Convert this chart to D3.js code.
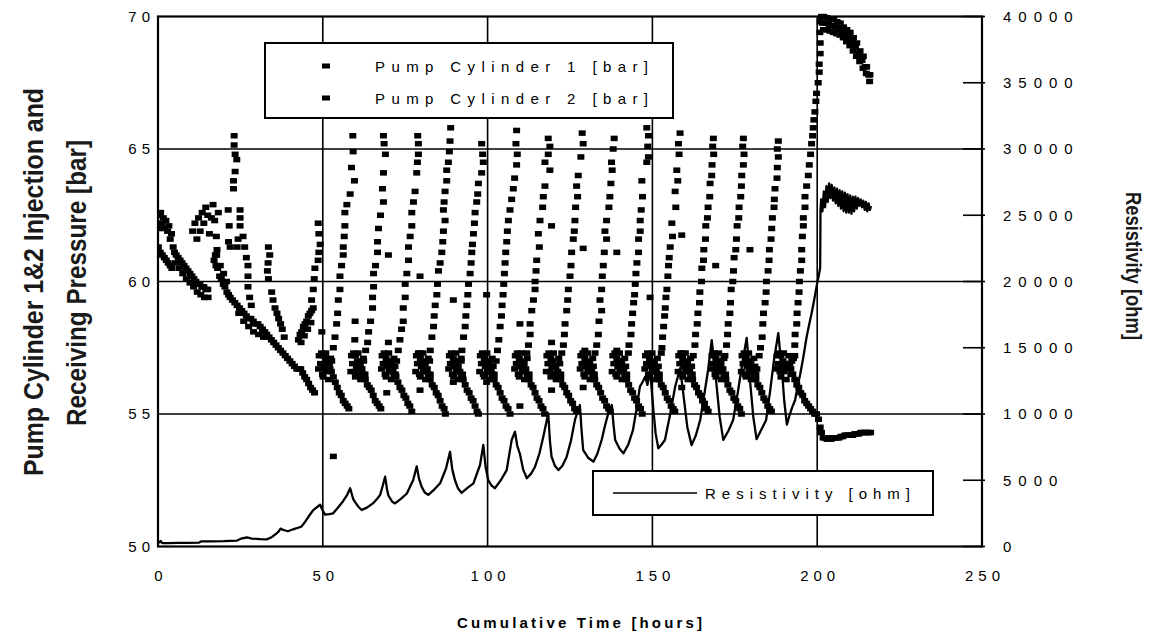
<!DOCTYPE html>
<html>
<head>
<meta charset="utf-8">
<script src="https://cdn.jsdelivr.net/npm/d3@7"></script>
<style>
  body { margin: 0; background: #fff; }
  svg text { font-family: "Liberation Sans", Arial, sans-serif; fill: #000; }
  .tick text { font-size: 15px; letter-spacing: 5px; }
  .axis-right .tick text { letter-spacing: 7px; }
  .narrow { font-weight: bold; fill: #1a1a1a !important; }
</style>
</head>
<body>
<svg width="1149" height="637"></svg>
<script>
// ---- data: [hours, bar] and [hours, ohm] ----
var timeTicks = [0, 50, 100, 150, 200, 250];
var pressureTicks = [50, 55, 60, 65, 70];
var resistTicks = [0, 5000, 10000, 15000, 20000, 25000, 30000, 35000, 40000];

// start-up period, before the regular cycles
var cyl1Early = [[0.2,62.0],[0.4,62.5],[0.8,62.6],[1.2,62.2],[1.6,62.4],[2.0,62.0],[2.4,62.3],[2.9,61.9],[3.3,62.1],[3.7,61.6],[4.1,61.8],[4.6,61.3],[5.0,61.1],[5.5,61.0],[6.1,60.9],[6.7,60.8],[7.3,60.7],[7.9,60.6],[8.5,60.5],[9.1,60.4],[9.7,60.3],[10.3,60.2],[10.9,60.1],[11.5,60.0],[12.1,59.9],[12.7,59.9],[13.3,59.8],[13.9,59.8],[14.5,59.7],[15.1,59.7],
  [10.5,61.9],[11.2,62.2],[11.8,61.6],[12.3,62.4],[12.8,61.9],[13.4,62.6],[13.9,62.2],[14.5,62.8],[15.1,62.5],[15.6,61.8],[16.2,62.4],[16.7,62.9],[17.2,62.3],[17.7,61.7],[17.9,61.2],[17.4,61.0],[18.3,62.6],
  [22.9,63.5],[22.9,63.8],[23.4,64.15],[23.9,64.6],[23.4,64.8],[23.1,65.15],[23.1,65.5],
  [25.8,61.7],[26.3,61.3],[26.8,60.9],[27.3,60.6],[27.3,60.2],[27.3,59.8],[27.8,59.4],[28.3,59.1],
  [22.6,59.3],[23.3,59.2],[24.0,59.1],[24.7,59.0],[25.4,58.9],[26.1,58.8],[26.8,58.7],[27.5,58.6],[28.2,58.6],[28.9,58.5],[29.6,58.4],[30.3,58.4],[31.0,58.3],[31.7,58.2],[32.4,58.1],
  [33.0,58.0],[33.7,57.9],[34.4,57.8],[35.1,57.7],[35.8,57.6],[36.5,57.5],[37.2,57.4],[37.9,57.3],[38.6,57.2],[39.3,57.1],[40.0,57.0],[40.7,56.9],[41.4,56.8],[42.1,56.7],[42.6,56.7],
  [42.6,57.8],[43.1,58.0],[43.6,58.1],[44.1,58.3],[44.6,58.4],[45.1,58.5],[45.6,58.7],[46.1,58.8],[46.6,58.9],[47.1,59.0],[43.4,57.7],[44.4,57.95],[45.4,58.2],[46.4,58.45]];

var cyl2Early = [[0.1,61.3],[0.7,61.1],[1.3,61.0],[1.9,60.9],[2.5,60.8],[3.1,60.7],[3.7,60.6],[4.2,60.5],
  [5.3,60.7],[6.4,60.5],[7.5,60.3],[8.6,60.1],[9.7,59.95],[10.8,59.8],[11.9,59.6],[13.0,59.5],[14.1,59.4],[15.2,59.4],
  [21.3,62.7],[21.6,62.1],[21.4,61.5],[21.9,61.3],[24.9,62.7],[24.9,62.4],[24.9,62.1],[24.3,61.6],[24.0,61.3],
  [17.0,60.8],[17.6,60.6],[18.1,60.5],[18.7,60.2],[19.2,60.1],[19.8,59.9],[20.3,59.8],[20.9,59.6],[21.4,59.5],[21.9,59.4],[17.8,61.0],[18.9,60.6],[19.9,60.3],[20.8,60.0],
  [24.5,58.8],[26.0,58.5],[27.5,58.3],[29.0,58.1],[30.5,58.0],[32.0,57.9],
  [33.5,61.3],[33.9,61.0],[33.4,60.7],[33.2,60.4],[33.5,60.1],[34.5,59.6],
  [34.9,59.3],[35.5,59.0],[36.1,58.8],[36.6,58.6],[37.2,58.4],[37.7,58.2],[38.3,57.9],
  [43.3,56.7],[43.9,56.55],[44.5,56.4],[45.1,56.3],[45.7,56.15],[46.3,56.0],[46.9,55.9],[47.5,55.8],
  [46.6,59.3],[47.1,59.7],[47.4,60.1],[47.6,60.5],[48.6,60.8],[48.8,61.1],[49.2,61.4],[48.8,61.8],[48.6,62.2]];

// receiving strokes: pressure climbing to ~65.5 bar
var cyl1Rise = [[52.7,57.0],[53.2,57.5],[53.7,57.9],[54.2,58.4],[54.5,58.8],[54.7,59.3],[55.2,59.7],[55.2,60.2],[55.7,60.6],[56.2,61.0],[56.2,61.3],[56.5,61.7],[56.7,62.1],[56.7,62.6],[57.3,62.9],[58.3,63.3],[59.6,63.8],[58.7,64.3],[59.2,64.9],[59.1,65.5],
  [72.4,57.0],[72.9,57.4],[73.4,57.8],[73.9,58.2],[74.4,58.5],[74.4,59.0],[75.0,59.4],[75.0,59.9],[75.5,60.3],[76.0,60.8],[76.0,61.3],[76.5,61.7],[77.0,62.1],[77.0,62.6],[77.5,63.0],[78.0,63.4],[78.5,64.1],[78.7,64.5],[79.0,64.8],[79.0,65.2],[78.8,65.5],
  [92.0,57.0],[92.2,57.4],[92.7,57.9],[93.2,58.3],[93.4,58.7],[93.7,59.1],[94.0,59.5],[94.2,59.9],[94.7,60.3],[95.0,60.7],[95.2,61.1],[95.4,61.4],[95.7,61.8],[96.0,62.2],[96.2,62.6],[96.7,63.0],[97.0,63.3],[97.2,63.7],[98.2,64.1],[98.7,64.5],[98.5,64.8],[98.2,65.2],
  [111.9,57.3],[112.4,57.6],[112.9,58.0],[112.9,58.4],[113.4,58.9],[113.9,59.3],[114.4,59.7],[114.4,60.0],[114.7,60.4],[114.9,60.8],[115.7,61.3],[115.4,61.8],[115.9,62.3],[116.7,62.8],[116.9,63.2],[117.4,63.6],[118.9,64.2],[117.4,64.5],[118.4,64.8],[118.9,65.1],[118.4,65.4],
  [132.6,57.3],[133.1,57.6],[133.6,58.0],[133.8,58.5],[134.6,58.9],[134.1,59.3],[134.6,59.7],[134.8,60.2],[135.1,60.6],[135.4,61.1],[136.1,61.6],[135.6,61.9],[136.1,62.3],[136.8,62.8],[137.1,63.2],[137.4,63.7],[137.8,64.2],[137.6,64.5],[138.1,65.0],[138.4,65.4],
  [152.7,57.3],[152.9,57.5],[153.1,57.9],[153.4,58.3],[153.7,58.7],[153.9,59.0],[154.1,59.4],[154.4,59.7],[154.7,60.2],[154.9,60.6],[155.1,60.9],[155.4,61.3],[156.1,61.7],[155.9,62.2],[157.1,62.8],[156.9,63.4],[157.7,63.8],[157.4,64.2],[158.1,64.8],[157.9,65.2],[158.4,65.6],
  [172.0,57.2],[172.5,57.6],[172.8,58.0],[173.0,58.4],[173.5,58.8],[173.7,59.2],[173.9,59.7],[174.4,60.0],[174.6,60.4],[174.8,60.9],[175.3,61.2],[175.5,61.6],[175.7,62.1],[176.2,62.4],[176.3,62.8],[176.8,63.2],[177.0,63.6],[177.1,64.0],[177.6,64.4],[177.8,64.8],[177.4,65.1],[177.6,65.4],
  [193.2,57.2],[193.2,57.6],[193.3,58.0],[193.8,58.4],[193.9,58.8],[194.2,59.2],[194.5,59.6],[194.6,60.0],[194.9,60.4],[195.3,60.8],[195.3,61.2],[195.5,61.7],[195.8,62.1],[195.8,62.4],[196.3,62.8],[196.3,63.2],[196.8,63.6],[197.3,64.0],[197.6,64.4],[198.0,64.8],[198.3,65.2],[198.6,65.5],[198.8,65.8],[199.0,66.1],[199.3,66.4],[199.6,66.8],[199.8,67.1],[200.3,67.5],[200.6,67.9],[200.6,68.2],[200.9,68.6],[200.9,69.0],[200.8,69.4],[200.9,69.8]];

var cyl2Rise = [[62.4,57.0],[63.0,57.4],[63.6,57.7],[63.9,58.1],[64.5,58.5],[65.1,59.0],[65.1,59.4],[65.4,59.8],[65.4,60.3],[66.0,60.6],[66.6,61.1],[66.6,61.5],[66.9,62.0],[67.5,62.5],[68.4,63.0],[68.1,63.5],[68.4,64.1],[69.0,64.8],[68.6,65.2],[68.4,65.5],
  [82.4,57.0],[82.6,57.4],[83.1,57.9],[83.6,58.3],[83.8,58.7],[84.1,59.1],[84.6,59.5],[84.8,59.9],[85.1,60.4],[85.6,60.7],[86.1,61.1],[86.4,61.5],[86.6,61.9],[87.1,62.3],[86.6,62.7],[86.8,63.0],[87.1,63.4],[87.6,63.8],[87.6,64.2],[88.1,64.5],[88.4,64.9],[88.6,65.3],[88.8,65.8],
  [102.6,57.0],[103.0,57.4],[103.4,57.8],[103.8,58.3],[104.2,58.7],[104.4,59.1],[104.7,59.5],[104.9,59.9],[105.1,60.3],[105.3,60.7],[105.5,61.1],[105.8,61.5],[106.0,61.9],[106.3,62.3],[106.8,62.7],[107.3,63.1],[107.8,63.5],[108.2,63.9],[108.8,64.4],[109.0,64.8],[108.6,65.2],[108.8,65.7],
  [122.5,57.3],[123.0,57.6],[123.3,58.0],[123.5,58.4],[124.0,58.9],[124.3,59.3],[124.5,59.7],[125.0,60.2],[125.3,60.6],[125.5,61.1],[126.0,61.6],[126.3,61.9],[126.5,62.3],[126.7,62.8],[127.3,63.2],[127.0,63.6],[127.5,64.0],[128.3,64.7],[129.0,65.2],[128.7,65.6],
  [142.7,57.3],[142.9,57.6],[143.5,58.0],[143.7,58.4],[144.0,58.8],[144.3,59.2],[144.6,59.5],[144.8,59.9],[145.0,60.3],[145.3,60.7],[145.8,61.1],[145.8,61.6],[146.3,61.9],[146.3,62.3],[146.6,62.7],[147.0,63.2],[146.8,63.8],[148.3,64.5],[148.8,64.7],[148.6,65.1],[148.8,65.5],[148.3,65.8],
  [162.4,57.2],[162.9,57.6],[163.1,58.0],[163.6,58.4],[163.8,58.8],[164.3,59.2],[164.4,59.6],[164.9,60.0],[165.0,60.5],[165.5,60.8],[165.6,61.2],[166.1,61.6],[166.2,62.1],[166.7,62.4],[166.9,62.8],[167.4,63.2],[167.5,63.7],[168.0,64.0],[168.1,64.4],[168.6,64.8],[168.3,65.1],[168.5,65.4],
  [182.4,57.2],[182.8,57.5],[183.3,57.9],[183.5,58.4],[183.7,58.8],[184.2,59.2],[184.5,59.6],[184.6,60.0],[185.1,60.4],[185.4,60.8],[185.5,61.2],[186.0,61.6],[186.2,62.0],[186.4,62.4],[186.9,62.8],[187.0,63.1],[187.2,63.5],[187.8,63.9],[187.9,64.3],[188.2,64.7],[187.9,65.0],[188.2,65.3]];

// injecting strokes: pressure sliding from ~57 to ~55 bar
var cyl1Fall = [[59.3,57.3],[59.9,57.2],[60.5,57.0],[61.1,56.9],[61.7,56.7],[62.3,56.5],[62.9,56.3],[63.5,56.1],[64.1,56.0],[64.7,55.9],[65.3,55.7],[65.9,55.5],[66.5,55.4],[67.1,55.3],[67.6,55.2],
  [79.0,57.3],[79.6,57.1],[80.2,57.0],[80.8,56.8],[81.4,56.6],[82.0,56.5],[82.6,56.3],[83.2,56.1],[83.8,56.0],[84.4,55.8],[85.0,55.7],[85.6,55.5],[86.2,55.3],[86.8,55.2],[87.2,55.0],
  [98.4,57.3],[99.0,57.1],[99.6,57.0],[100.2,56.8],[100.8,56.6],[101.4,56.5],[102.0,56.3],[102.6,56.1],[103.2,56.0],[103.8,55.8],[104.4,55.6],[105.0,55.5],[105.6,55.3],[106.2,55.2],[106.8,55.0],
  [118.6,57.3],[119.2,57.1],[119.8,57.0],[120.4,56.8],[121.0,56.6],[121.6,56.5],[122.2,56.3],[122.8,56.1],[123.4,56.0],[124.0,55.8],[124.6,55.7],[125.2,55.5],[125.8,55.4],[126.4,55.2],[127.0,55.1],
  [138.6,57.3],[139.2,57.1],[139.8,57.0],[140.4,56.8],[141.0,56.6],[141.6,56.4],[142.2,56.3],[142.8,56.1],[143.4,55.9],[144.0,55.8],[144.6,55.6],[145.2,55.5],[145.8,55.3],[146.4,55.2],[146.9,55.0],
  [158.6,57.3],[159.2,57.1],[159.8,57.0],[160.4,56.8],[161.0,56.6],[161.6,56.5],[162.2,56.3],[162.8,56.1],[163.4,56.0],[164.0,55.8],[164.6,55.7],[165.2,55.5],[165.8,55.4],[166.4,55.2],[166.9,55.1],
  [177.8,57.3],[178.4,57.1],[179.0,57.0],[179.6,56.8],[180.2,56.6],[180.8,56.5],[181.4,56.3],[182.0,56.1],[182.6,56.0],[183.2,55.8],[183.8,55.6],[184.4,55.5],[185.0,55.3],[185.6,55.2],[186.1,55.1]];

var cyl2Fall = [[49.6,57.3],[50.2,57.2],[50.8,57.1],[51.4,57.0],[52.0,56.9],[52.6,56.6],[53.2,56.4],[53.8,56.2],[54.4,56.0],[55.0,55.8],[55.6,55.7],[56.2,55.5],[56.8,55.4],[57.4,55.3],[57.9,55.2],
  [68.6,57.3],[69.2,57.1],[69.8,57.0],[70.4,56.8],[71.0,56.7],[71.6,56.5],[72.2,56.4],[72.8,56.2],[73.4,56.0],[74.0,55.9],[74.6,55.7],[75.2,55.6],[75.8,55.4],[76.4,55.3],[77.0,55.1],
  [89.0,57.3],[89.6,57.1],[90.2,57.0],[90.8,56.8],[91.4,56.6],[92.0,56.4],[92.6,56.3],[93.2,56.1],[93.8,55.9],[94.4,55.8],[95.0,55.6],[95.6,55.5],[96.2,55.3],[96.8,55.1],[97.2,55.0],
  [109.0,57.3],[109.6,57.1],[110.2,57.0],[110.8,56.8],[111.4,56.6],[112.0,56.5],[112.6,56.3],[113.2,56.1],[113.8,56.0],[114.4,55.8],[115.0,55.6],[115.6,55.5],[116.2,55.3],[116.8,55.2],[117.3,55.0],
  [128.9,57.3],[129.5,57.1],[130.1,57.0],[130.7,56.8],[131.3,56.6],[131.9,56.5],[132.5,56.3],[133.1,56.1],[133.7,56.0],[134.3,55.8],[134.9,55.6],[135.5,55.5],[136.1,55.3],[136.7,55.2],[137.2,55.1],
  [148.5,57.3],[149.1,57.1],[149.7,57.0],[150.3,56.8],[150.9,56.6],[151.5,56.5],[152.1,56.3],[152.7,56.1],[153.3,56.0],[153.9,55.8],[154.5,55.6],[155.1,55.5],[155.7,55.3],[156.3,55.2],[156.8,55.1],
  [168.7,57.3],[169.3,57.1],[169.9,57.0],[170.5,56.8],[171.1,56.6],[171.7,56.4],[172.3,56.3],[172.9,56.1],[173.5,55.9],[174.1,55.8],[174.7,55.6],[175.3,55.5],[175.9,55.3],[176.5,55.2],[177.0,55.0],
  [188.4,57.3],[189.0,57.2],[189.6,57.0],[190.2,56.9],[190.8,56.8],[191.4,56.9],[192.0,56.7],[192.6,56.5],[193.2,56.3],[193.8,56.1],[194.4,56.0],[195.0,55.8],[195.6,55.7],[196.2,55.5],[196.8,55.4],[197.4,55.3],[198.0,55.2],[198.6,55.1],[199.2,55.0],[199.8,55.0],[200.4,54.8],[200.9,54.5],[201.3,54.3],
  [201.8,54.1],[202.4,54.1],[203.0,54.05],[203.6,54.1],[204.2,54.05],[204.8,54.1],[205.4,54.1],[206.0,54.1],[206.6,54.1],[207.2,54.15],[207.8,54.15],[208.4,54.2],[209.0,54.2],[209.6,54.2],[210.2,54.2],[210.8,54.2],[211.4,54.25],[212.0,54.25],[212.6,54.25],[213.2,54.3],[213.8,54.3],[214.4,54.3],[215.0,54.3],[215.6,54.3],[216.2,54.3]];

// waiting at ~57 bar right after a switch-over
var cyl1Wait = [[48.7,56.7],[49.3,56.9],[49.9,56.5],[50.5,56.8],[51.1,56.6],[51.7,56.9],[52.2,56.7],
  [48.9,57.2],[50.1,56.4],[50.9,57.3],[51.7,56.3],[52.4,57.1],
  [67.8,56.7],[68.3,56.9],[68.9,56.5],[69.5,56.8],[70.1,56.6],[70.7,56.9],[71.3,56.6],[71.9,56.8],
  [68.0,57.2],[69.2,56.4],[70.0,57.3],[70.8,56.3],[71.6,57.1],[72.1,56.5],
  [88.2,56.7],[88.7,56.9],[89.3,56.5],[89.9,56.8],[90.5,56.6],[91.1,56.8],[91.6,56.6],
  [88.4,57.2],[89.7,56.4],[90.4,57.3],[91.2,56.3],[92.0,57.1],[92.4,56.5],
  [108.2,56.7],[108.7,56.9],[109.3,56.5],[109.9,56.8],[110.5,56.6],[111.1,56.9],[111.6,56.7],
  [108.4,57.2],[109.6,56.4],[110.3,57.3],[111.2,56.3],[112.0,57.1],[112.6,56.5],
  [128.1,56.7],[128.6,56.9],[129.2,56.5],[129.8,56.8],[130.4,56.6],[131.0,56.9],[131.6,56.6],[132.1,56.8],
  [128.3,57.2],[129.5,56.4],[130.3,57.3],[131.1,56.3],[131.9,57.1],[132.4,56.5],
  [147.7,56.7],[148.2,56.9],[148.8,56.5],[149.4,56.8],[150.0,56.6],[150.6,56.9],[151.2,56.6],[151.8,56.8],
  [147.9,57.2],[149.1,56.4],[149.9,57.3],[150.7,56.3],[151.5,57.1],[152.1,56.5],
  [167.9,56.7],[168.4,56.9],[169.0,56.5],[169.6,56.8],[170.2,56.6],[170.8,56.9],[171.4,56.7],
  [168.1,57.2],[169.3,56.4],[170.1,57.3],[170.9,56.3],[171.7,57.1],[172.2,56.5],
  [187.6,56.7],[188.1,56.9],[188.7,56.6],[189.3,56.8],[189.9,56.6],[190.5,56.9],[191.1,56.7],[191.7,56.9],[192.3,57.0],[192.8,57.1],
  [187.8,57.2],[189.0,56.4],[189.8,57.3],[190.6,56.3],[191.4,57.2],[192.0,56.5]];

var cyl2Wait = [[58.5,56.6],[59.0,56.9],[59.6,56.6],[60.2,56.8],[60.8,56.5],[61.4,56.8],[61.9,56.7],
  [58.7,57.2],[59.9,56.4],[60.7,57.3],[61.5,56.3],[62.3,57.1],[62.8,56.5],
  [78.2,56.6],[78.7,56.9],[79.3,56.5],[79.9,56.8],[80.5,56.6],[81.1,56.9],[81.7,56.7],
  [78.4,57.2],[79.6,56.4],[80.4,57.3],[81.2,56.3],[82.0,57.1],[82.6,56.5],
  [97.6,56.6],[98.1,56.9],[98.7,56.5],[99.3,56.8],[99.9,56.6],[100.5,56.9],[101.1,56.6],[101.7,56.8],
  [97.8,57.2],[99.0,56.4],[99.8,57.3],[100.6,56.3],[101.4,57.1],[102.0,56.5],
  [117.8,56.6],[118.3,56.9],[118.9,56.6],[119.5,56.8],[120.1,56.5],[120.7,56.8],[121.3,56.6],[121.9,56.9],
  [118.0,57.2],[119.2,56.4],[120.0,57.3],[120.8,56.3],[121.6,57.1],[122.2,56.5],
  [137.8,56.6],[138.3,56.9],[138.9,56.5],[139.5,56.8],[140.1,56.6],[140.7,56.9],[141.3,56.7],[141.9,56.8],
  [138.0,57.2],[139.2,56.4],[140.0,57.3],[140.8,56.3],[141.6,57.1],[142.2,56.5],
  [157.8,56.6],[158.3,56.9],[158.9,56.5],[159.5,56.8],[160.1,56.6],[160.7,56.9],[161.3,56.7],[161.9,56.8],
  [158.0,57.2],[159.2,56.4],[160.0,57.3],[160.8,56.3],[161.6,57.1],[162.1,56.5],
  [177.0,56.6],[177.5,56.9],[178.1,56.5],[178.7,56.8],[179.3,56.6],[179.9,56.9],[180.5,56.6],[181.1,56.8],[181.7,56.7],
  [177.2,57.2],[178.4,56.4],[179.2,57.3],[180.0,56.3],[180.8,57.1],[181.4,56.5]];

// cylinder 1 held at high pressure after 200 h
var cyl1High = [[201.3,70.0],[202.0,70.0],[203.0,69.95],[204.0,69.9],[205.0,69.9],[206.0,69.8],[207.0,69.75],[208.0,69.6],[209.0,69.5],[210.0,69.4],[211.0,69.2],[212.0,69.0],[213.0,68.7],[214.0,68.5],[215.0,68.1],[216.0,67.8],
  [201.6,69.75],[202.6,69.75],[203.6,69.7],[204.6,69.65],[205.6,69.6],[206.6,69.55],[207.6,69.45],[208.6,69.3],[209.6,69.2],[210.6,69.05],[211.6,68.85],[212.6,68.6],[213.6,68.35],[214.6,68.1],[215.6,67.8],
  [201.9,69.5],[202.9,69.5],[203.9,69.45],[204.9,69.4],[205.9,69.35],[206.9,69.3],[207.9,69.2],[208.9,69.05],[209.9,68.9],[210.9,68.7],[211.9,68.5],[212.9,68.3],[213.9,68.05],[214.9,67.85],[215.9,67.55]];

// lone samples taken during switch-overs
var cyl1Odd = [[49.7,58.1],[59.8,58.5],[59.7,57.8],[79.5,60.2],[79.5,55.9],[79.5,57.3],[99.7,59.5],[99.7,56.2],[119.4,62.1],[119.4,57.7],[119.4,55.9],[139.2,61.1],[139.2,57.4],[158.9,61.75],[158.9,57.3],[158.9,56.0],[179.6,61.2]];
var cyl2Odd = [[53.2,53.4],[69.9,61.0],[69.4,55.8],[69.9,57.7],[89.6,59.3],[89.6,56.2],[109.8,58.4],[109.8,55.3],[129.0,61.25],[129.5,57.4],[129.0,56.0],[149.3,59.4],[169.2,60.6]];

var resistivity = [[0.3,250],[0.8,420],[1.3,250],[3,260],[6,270],[9,280],[12.5,300],[13,380],[16,380],[20,400],[24,450],[25.5,620],[27,680],[28.5,600],[31,560],[33,540],[34.5,700],[35.5,900],[36.5,1100],[37.2,1350],[38,1250],[39.4,1150],[41,1300],[42.1,1380],[43.5,1500],[44.6,1850],[45.8,2300],[47.1,2750],[48.4,3000],[49.2,3150],[50,2700],[50.7,2400],[52,2450],[53.1,2500],[54.5,2900],[56.1,3400],[57.4,3900],[58.3,4400],[59.2,3600],[59.8,3350],[60.8,3000],[61.8,2750],[63.5,2950],[65.2,3250],[66.5,3600],[67.4,3900],[68.2,4600],[68.9,5270],[69.5,4300],[69.9,3850],[71,3400],[71.9,3250],[73.7,3600],[75.5,4000],[77.4,5000],[78.5,6050],[79.2,5100],[80,4500],[81,4050],[82,3900],[83.8,4300],[85.6,4770],[87.4,5900],[88.6,7150],[89.3,5800],[90.1,5000],[91,4400],[92.1,4050],[93.8,4400],[95.7,4770],[97.7,6150],[98.7,7660],[99.4,6000],[100.2,5000],[101.2,4600],[102.2,4400],[104,5000],[105.8,5770],[107.3,8040],[108.3,8660],[109,7600],[109.8,7000],[110.8,5800],[111.9,5150],[113.2,5500],[114.4,6020],[115.7,7000],[116.9,8290],[118.4,10050],[118.9,8000],[119.4,6780],[120.4,6100],[121.5,5770],[122.7,6100],[124,6780],[125.3,8000],[126.5,9550],[128,10680],[128.5,8800],[129,7280],[130.5,6700],[132.1,6400],[133.3,7000],[134.6,8040],[135.7,9200],[136.6,10050],[137.7,10680],[138.2,9200],[138.7,8040],[140,7400],[141.2,7030],[142.7,7700],[144.1,8790],[145.2,10400],[146.2,12060],[147,12400],[147.8,12810],[148.5,12200],[149.3,13320],[149.8,11800],[150.3,10300],[151,8500],[151.8,7410],[152.8,7700],[153.8,8040],[155.4,10000],[156.9,12060],[158.4,13450],[159,12300],[159.6,11060],[160.6,9000],[161.9,7650],[163.2,8400],[164.5,9550],[165.7,11400],[166.9,13320],[168,15580],[168.6,14200],[169.3,12570],[170.4,9800],[171.5,8050],[173,8700],[174.5,9550],[175.9,11600],[177.2,13700],[178.6,15740],[179.1,14300],[179.6,12570],[180.6,9800],[181.6,8100],[183,8800],[184.5,9550],[185.7,11700],[186.9,14080],[188.2,16110],[188.7,14800],[189.3,13320],[190,11000],[190.8,9200],[191.6,9900],[192.4,10500],[193.3,11060],[194,12000],[194.8,12940],[195.8,14300],[196.8,15830],[197.6,16800],[198.3,17600],[199,18500],[199.8,19600],[200.5,20490],[200.9,21020],[201.0,25400],
  [201.2,26200],[201.6,25300],[202.0,26800],[202.4,25600],[202.8,27200],[203.2,26000],[203.6,27400],[204.0,26300],[204.4,27300],[204.8,26100],[205.2,27100],[205.6,25900],[206.0,27000],[206.4,25700],[206.8,26900],[207.2,25500],[207.6,26800],[208.0,25300],[208.4,26700],[208.8,25200],[209.2,26600],[209.6,25200],[210.0,26500],[210.4,25100],[210.8,26400],[211.2,25300],[211.6,26400],[212.0,25500],[212.4,26300],[212.8,25700],[213.2,26200],[213.6,25600],[214.0,26100],[214.4,25400],[214.8,26000],[215.2,25300],[215.6,25900],[216.0,25400],[216.3,25700]];

var cyl1 = [].concat(cyl1Early, cyl1Wait, cyl1Rise, cyl1Fall, cyl1High, cyl1Odd);
var cyl2 = [].concat(cyl2Early, cyl2Wait, cyl2Rise, cyl2Fall, cyl2Odd);

// ---- layout ----
var svg = d3.select("svg"),
    plotL = 158, plotR = 982, plotT = 16.5, plotB = 546.5;

var x = d3.scaleLinear().domain([0, 250]).range([plotL, plotR]);
var yP = d3.scaleLinear().domain([50, 70]).range([plotB, plotT]);
var yR = d3.scaleLinear().domain([0, 40000]).range([plotB, plotT]);

svg.append("defs").append("clipPath").attr("id", "plotclip")
    .append("rect").attr("x", plotL).attr("y", plotT - 3).attr("width", plotR - plotL).attr("height", plotB - plotT + 3);

// grid lines
var grid = svg.append("g").attr("stroke", "#000").attr("stroke-width", 1.6);
grid.selectAll(".hg").data([55, 60, 65]).enter().append("line")
    .attr("x1", plotL).attr("x2", plotR)
    .attr("y1", function (d) { return yP(d); }).attr("y2", function (d) { return yP(d); });
grid.selectAll(".vg").data([50, 100, 150, 200]).enter().append("line")
    .attr("y1", plotT).attr("y2", plotB)
    .attr("x1", function (d) { return x(d); }).attr("x2", function (d) { return x(d); });

// right axis ticks, mostly inside the frame
grid.selectAll(".rt").data(resistTicks).enter().append("line")
    .attr("x1", plotR - 19).attr("x2", plotR + 3)
    .attr("y1", function (d) { return yR(d); }).attr("y2", function (d) { return yR(d); });

// frame
svg.append("rect").attr("x", plotL).attr("y", plotT).attr("width", plotR - plotL).attr("height", plotB - plotT)
    .attr("fill", "none").attr("stroke", "#000").attr("stroke-width", 2.2);

var plot = svg.append("g").attr("clip-path", "url(#plotclip)");

// resistivity line
var line = d3.line()
    .x(function (d) { return x(d[0]); })
    .y(function (d) { return yR(d[1]); });

plot.append("path").datum(resistivity)
    .attr("d", line).attr("fill", "none").attr("stroke", "#000").attr("stroke-width", 2.3)
    .attr("stroke-linejoin", "round");

// pump cylinder markers
function drawMarkers(data, cls) {
    plot.append("g").attr("class", cls).selectAll("rect").data(data).enter().append("rect")
        .attr("x", function (d) { return x(d[0]) - 3.5; })
        .attr("y", function (d) { return yP(d[1]) - 2.75; })
        .attr("width", 7).attr("height", 5.5).attr("fill", "#000");
}
drawMarkers(cyl1, "cyl1");
drawMarkers(cyl2, "cyl2");

// axes (labels only)
var axL = svg.append("g").attr("transform", "translate(" + plotL + ",0)")
    .call(d3.axisLeft(yP).tickValues(pressureTicks).tickSize(0).tickPadding(3));
var axR = svg.append("g").attr("class", "axis-right").attr("transform", "translate(" + plotR + ",0)")
    .call(d3.axisRight(yR).tickValues(resistTicks).tickSize(0).tickPadding(21).tickFormat(d3.format("d")));
var axB = svg.append("g").attr("transform", "translate(0," + plotB + ")")
    .call(d3.axisBottom(x).tickValues(timeTicks).tickSize(0).tickPadding(24));
[axL, axR, axB].forEach(function (g) { g.select(".domain").remove(); });
axB.selectAll(".tick text").attr("dx", "2.5px");

// axis titles
svg.append("text").attr("x", 457).attr("y", 628)
    .attr("textLength", 245).attr("lengthAdjust", "spacing")
    .style("font-size", "15px").style("font-weight", "bold")
    .text("Cumulative Time [hours]");

svg.append("text").attr("class", "narrow")
    .attr("transform", "translate(43,282) rotate(-90)").attr("text-anchor", "middle")
    .attr("textLength", 388).attr("lengthAdjust", "spacingAndGlyphs")
    .style("font-size", "28px")
    .text("Pump Cylinder 1&2 Injection and");
svg.append("text").attr("class", "narrow")
    .attr("transform", "translate(86,283) rotate(-90)").attr("text-anchor", "middle")
    .attr("textLength", 286).attr("lengthAdjust", "spacingAndGlyphs")
    .style("font-size", "28px")
    .text("Receiving Pressure [bar]");

svg.append("text").attr("class", "narrow")
    .attr("transform", "translate(1126,266) rotate(90)").attr("text-anchor", "middle")
    .attr("textLength", 148).attr("lengthAdjust", "spacingAndGlyphs")
    .style("font-size", "22px")
    .text("Resistivity [ohm]");

// legend for the pump cylinders
var leg1 = svg.append("g");
leg1.append("rect").attr("x", 265).attr("y", 43).attr("width", 408).attr("height", 75)
    .attr("fill", "#fff").attr("stroke", "#000").attr("stroke-width", 2);
["Pump Cylinder 1 [bar]", "Pump Cylinder 2 [bar]"].forEach(function (label, i) {
    var cy = 66 + i * 32;
    leg1.append("rect").attr("x", 322).attr("y", cy - 2.5).attr("width", 8).attr("height", 5).attr("fill", "#000");
    leg1.append("text").attr("x", 375).attr("y", cy + 5.5)
        .attr("textLength", 273).attr("lengthAdjust", "spacing")
        .style("font-size", "15px").text(label);
});

// legend for resistivity
var leg2 = svg.append("g");
leg2.append("rect").attr("x", 593).attr("y", 471).attr("width", 340).attr("height", 44)
    .attr("fill", "#fff").attr("stroke", "#000").attr("stroke-width", 2);
leg2.append("line").attr("x1", 613).attr("x2", 697).attr("y1", 493).attr("y2", 493)
    .attr("stroke", "#000").attr("stroke-width", 1.5);
leg2.append("text").attr("x", 705).attr("y", 498.5)
    .attr("textLength", 205).attr("lengthAdjust", "spacing")
    .style("font-size", "15px").text("Resistivity [ohm]");
</script>
</body>
</html>
